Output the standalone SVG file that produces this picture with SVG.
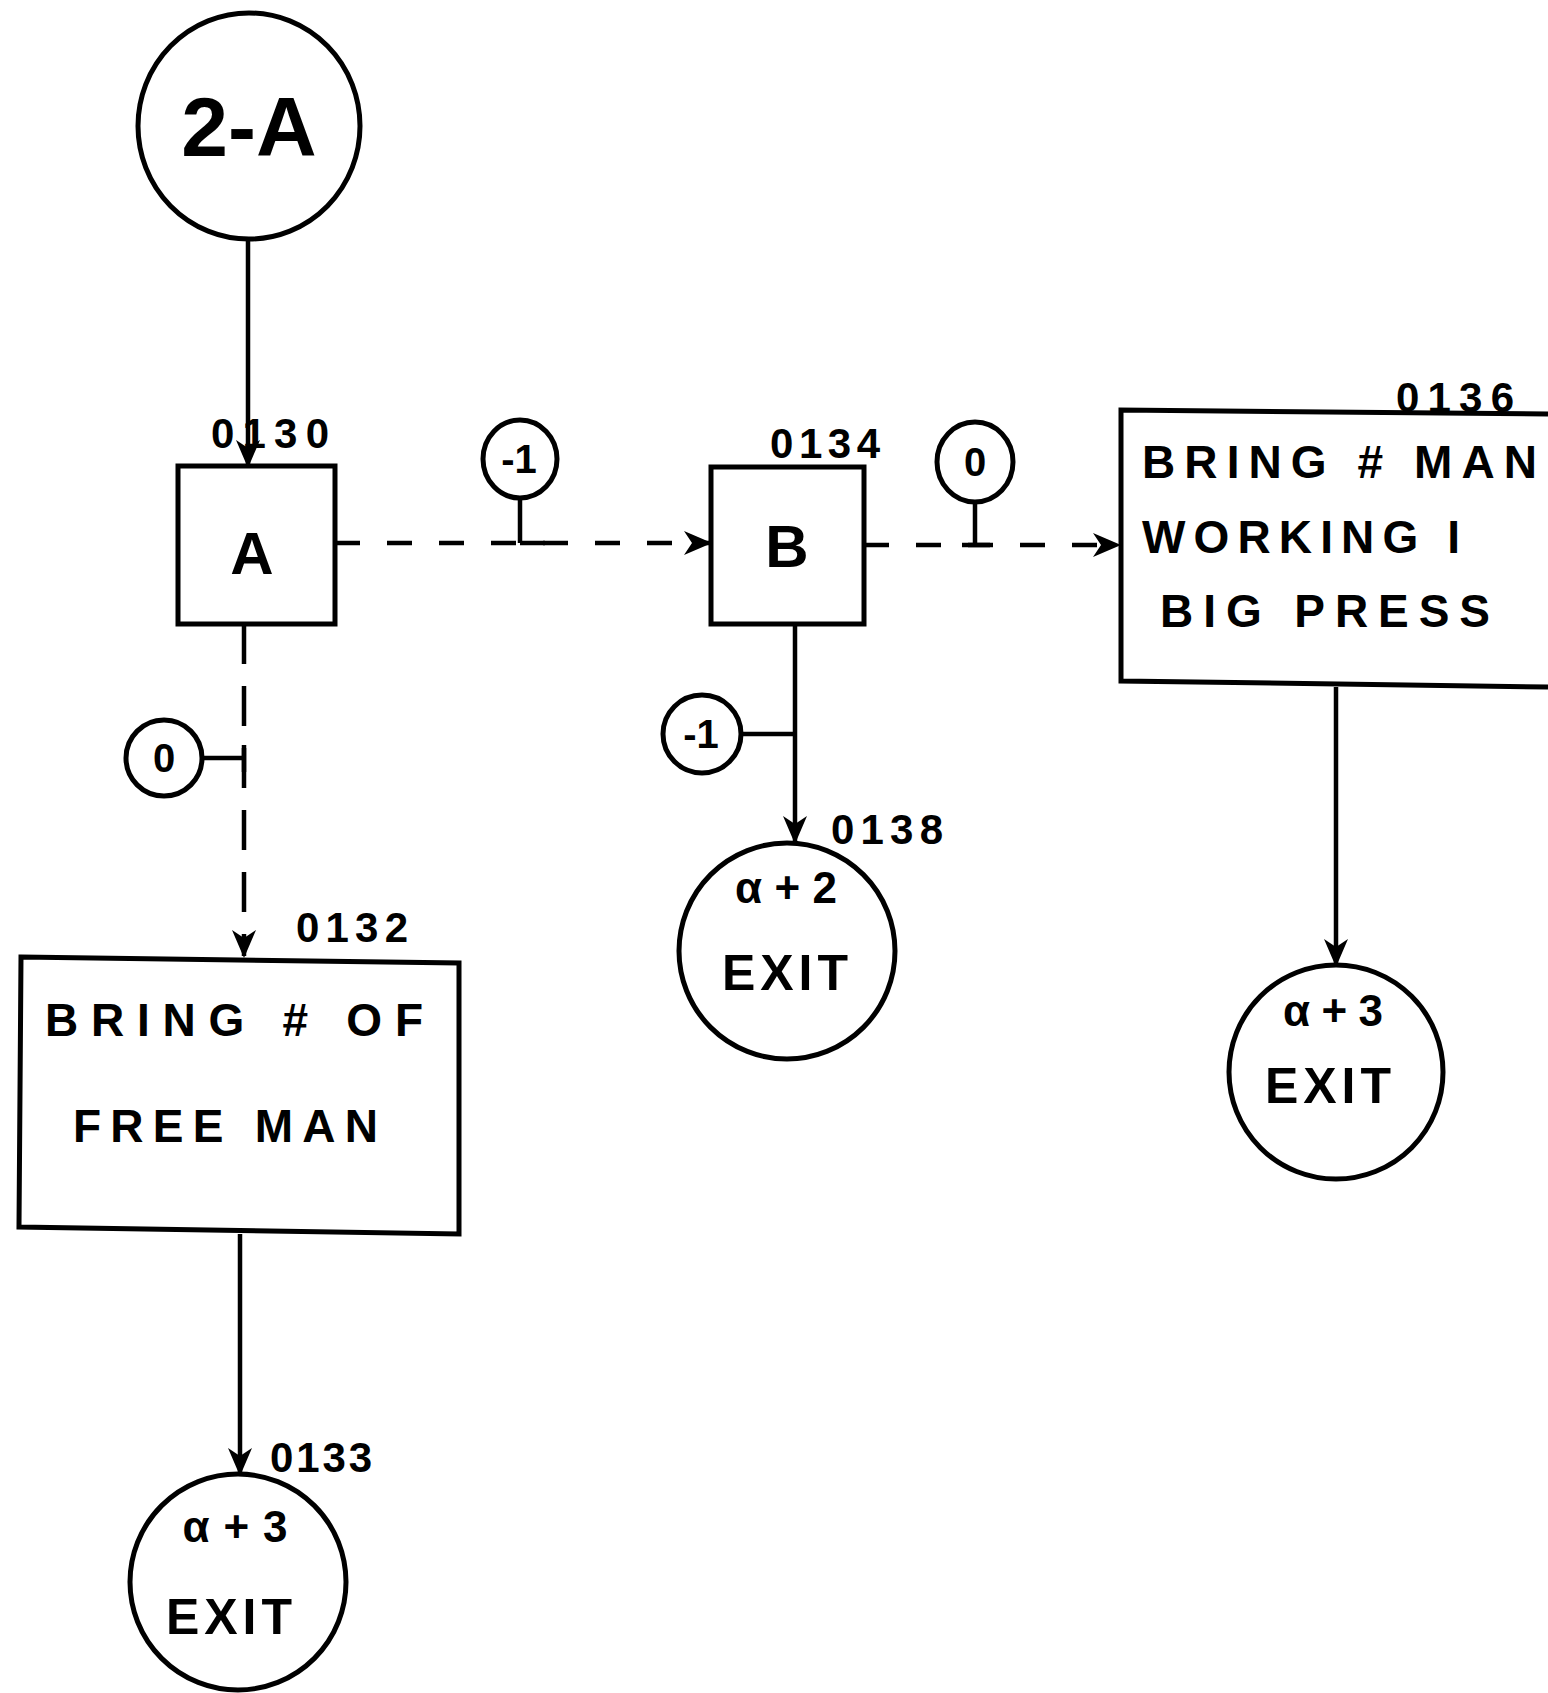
<svg xmlns="http://www.w3.org/2000/svg" width="1548" height="1693" viewBox="0 0 1548 1693">
<style>
.sh{fill:#fff;stroke:#000;stroke-width:5}
.ln{fill:none;stroke:#000;stroke-width:4.5}
.dl{fill:none;stroke:#000;stroke-width:4.5}
text{font-family:"Liberation Sans",Arial,sans-serif;font-weight:bold;fill:#000}
.big{font-size:84px}
.let{font-size:60px}
.lab{font-size:42px}
.num{font-size:40px}
.al{font-size:44px}
.ex{font-size:50px}
.bx{font-size:46px}
</style>
<defs>
<marker id="ah" viewBox="0 0 14 12" refX="13" refY="6" markerWidth="28" markerHeight="24" markerUnits="userSpaceOnUse" orient="auto">
<path d="M0,0 L14,6 L0,12 L4,6 z" fill="#000"/>
</marker>
</defs>
<rect width="1548" height="1693" fill="#fff"/>

<g id="connectors">
<line class="ln" x1="248" y1="238" x2="248" y2="466" marker-end="url(#ah)"/>
<line class="dl" x1="335" y1="543" x2="710" y2="543" stroke-dasharray="25,27" marker-end="url(#ah)"/>
<line class="dl" x1="864" y1="545" x2="1119" y2="545" stroke-dasharray="25,27" marker-end="url(#ah)"/>
<line class="dl" x1="244" y1="624" x2="244" y2="956" stroke-dasharray="40,22" marker-end="url(#ah)"/>
<line class="ln" x1="795" y1="624" x2="795" y2="842" marker-end="url(#ah)"/>
<line class="ln" x1="1336" y1="687" x2="1336" y2="965" marker-end="url(#ah)"/>
<line class="ln" x1="240" y1="1234" x2="240" y2="1474" marker-end="url(#ah)"/>
<line class="ln" x1="520" y1="497" x2="520" y2="543"/>
<line class="ln" x1="520" y1="543" x2="545" y2="543"/>
<line class="ln" x1="975" y1="502" x2="975" y2="545"/>
<line class="ln" x1="962" y1="545" x2="990" y2="545"/>
<line class="ln" x1="202" y1="758" x2="244" y2="758"/>
<line class="ln" x1="244" y1="745" x2="244" y2="772"/>
<line class="ln" x1="741" y1="734" x2="795" y2="734"/>
</g>

<g id="n2A">
<ellipse class="sh" cx="249" cy="126" rx="111" ry="113"/>
<text class="big" x="249" y="156" text-anchor="middle">2-A</text>
</g>

<g id="n0130">
<rect class="sh" x="178" y="466" width="157" height="158"/>
<text class="let" x="252" y="574" text-anchor="middle">A</text>
<text class="lab" x="270" y="448" text-anchor="middle" textLength="118" lengthAdjust="spacing">0130</text>
</g>

<g id="cm1a">
<ellipse class="sh" cx="520" cy="459" rx="37" ry="39"/>
<text class="num" x="519" y="473" text-anchor="middle">-1</text>
</g>

<g id="n0134">
<rect class="sh" x="711" y="467" width="153" height="157"/>
<text class="let" x="787" y="567" text-anchor="middle">B</text>
<text class="lab" x="825" y="458" text-anchor="middle" textLength="110" lengthAdjust="spacing">0134</text>
</g>

<g id="c0b">
<ellipse class="sh" cx="975" cy="462" rx="38" ry="40"/>
<text class="num" x="975" y="476" text-anchor="middle">0</text>
</g>

<g id="n0136">
<path class="sh" d="M1548,414 L1121,410 L1121,681 L1548,687"/>
<text class="lab" x="1455" y="412" text-anchor="middle" textLength="118" lengthAdjust="spacing">0136</text>
<text class="bx" x="1142" y="478" textLength="395" lengthAdjust="spacing">BRING # MAN</text>
<text class="bx" x="1142" y="553" textLength="318" lengthAdjust="spacing">WORKING I</text>
<text class="bx" x="1160" y="627" textLength="330" lengthAdjust="spacing">BIG PRESS</text>
</g>

<g id="c0a">
<circle class="sh" cx="164" cy="758" r="38"/>
<text class="num" x="164" y="772" text-anchor="middle">0</text>
</g>

<g id="cm1b">
<circle class="sh" cx="702" cy="734" r="39"/>
<text class="num" x="701" y="748" text-anchor="middle">-1</text>
</g>

<g id="n0138">
<circle class="sh" cx="787" cy="951" r="108"/>
<text class="lab" x="887" y="844" text-anchor="middle" textLength="112" lengthAdjust="spacing">0138</text>
<text class="al" x="786" y="903" text-anchor="middle" textLength="102" lengthAdjust="spacing">α+2</text>
<text class="ex" x="785" y="990" text-anchor="middle" textLength="126" lengthAdjust="spacing">EXIT</text>
</g>

<g id="n0132">
<path class="sh" d="M21,957 L459,963 L459,1234 L19,1227 Z"/>
<text class="lab" x="352" y="942" text-anchor="middle" textLength="112" lengthAdjust="spacing">0132</text>
<text class="bx" x="45" y="1036" textLength="378" lengthAdjust="spacing">BRING # OF</text>
<text class="bx" x="73" y="1142" textLength="305" lengthAdjust="spacing">FREE MAN</text>
</g>

<g id="n0136exit">
<circle class="sh" cx="1336" cy="1072" r="107"/>
<text class="al" x="1333" y="1026" text-anchor="middle" textLength="100" lengthAdjust="spacing">α+3</text>
<text class="ex" x="1328" y="1103" text-anchor="middle" textLength="126" lengthAdjust="spacing">EXIT</text>
</g>

<g id="n0133">
<circle class="sh" cx="238" cy="1582" r="108"/>
<text class="lab" x="321" y="1472" text-anchor="middle" textLength="102" lengthAdjust="spacing">0133</text>
<text class="al" x="235" y="1542" text-anchor="middle" textLength="105" lengthAdjust="spacing">α+3</text>
<text class="ex" x="229" y="1634" text-anchor="middle" textLength="126" lengthAdjust="spacing">EXIT</text>
</g>
</svg>
